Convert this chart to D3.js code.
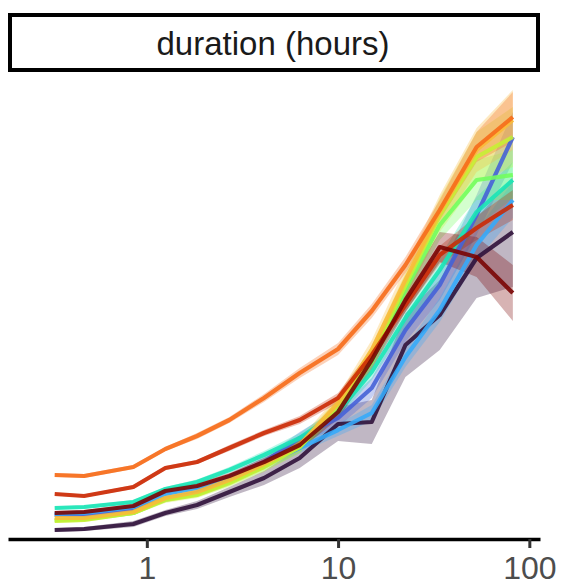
<!DOCTYPE html>
<html>
<head>
<meta charset="utf-8">
<script src="https://cdn.jsdelivr.net/npm/d3@7"></script>
<style>
  html, body { margin: 0; padding: 0; background: #fff; }
  svg { display: block; }
</style>
</head>
<body>
<svg id="chart" width="562" height="588"></svg>
<script>
// ---- data ----
const panelTitle = "duration (hours)";
const durations = [0.33, 0.47, 0.85, 1.25, 1.83, 2.7, 4.1, 6.3, 10, 15, 22.5, 34, 53, 82];
const xTicks = [1, 10, 100];
const groupColors = ["#30123B", "#4662D7", "#36AAF9", "#1AE4B6", "#72FE5E", "#C7EF34", "#FABA39", "#F66B19", "#CB2A04", "#7A0403"];

const g1 = [1.6, 1.8, 2.8, 5.0, 6.6, 9.2, 12.0, 16.0, 22.8, 23.2, 38.6, 44.6, 56.0, 61.2];
const g1ci = [0.4, 0.4, 0.6, 0.6, 0.8, 1, 1.4, 2, 3.4, 4.4, 6.4, 7, 8, 11];
const g2 = [4.6, 4.6, 5.6, 7.8, 9.0, 12.0, 15.2, 20.0, 24.0, 30.0, 41.6, 50.6, 64.6, 80.2];
const g2ci = [0.4, 0.4, 0.4, 0.6, 0.6, 0.8, 1, 1.2, 1.8, 2, 2.4, 3, 4, 5];
const g3 = [4.8, 5.0, 6.2, 8.8, 10.0, 12.0, 14.6, 18.0, 21.6, 25.0, 36.2, 45.6, 58.6, 67.6];
const g3ci = [0.4, 0.4, 0.4, 0.4, 0.6, 0.6, 0.8, 1, 1.2, 1.6, 2, 2.4, 3, 3.6];
const g4 = [6.0, 6.2, 7.2, 9.8, 11.2, 13.6, 16.6, 20.0, 25.2, 33.2, 44.0, 53.6, 65.2, 71.6];
const g4ci = [0.3, 0.3, 0.4, 0.4, 0.5, 0.6, 0.8, 1, 1.2, 1.6, 2, 2.6, 3, 3.6];
const g5 = [3.6, 3.8, 5.0, 7.8, 8.8, 11.2, 14.4, 18.2, 26.0, 35.2, 49.6, 62.6, 71.6, 72.6];
const g5ci = [0.4, 0.4, 0.4, 0.6, 0.6, 0.8, 1, 1.2, 1.4, 1.8, 2.4, 3, 4, 5];
const g6 = [3.4, 3.6, 5.0, 7.6, 8.6, 11.0, 14.2, 18.2, 26.6, 36.6, 50.6, 64.6, 76.2, 80.2];
const g6ci = [0.4, 0.4, 0.4, 0.6, 0.6, 0.8, 1, 1.2, 1.4, 1.8, 2.4, 3.4, 5, 6];
const g7 = [4.0, 4.0, 5.2, 8.0, 9.2, 11.6, 14.8, 18.6, 27.0, 37.6, 51.6, 65.2, 77.6, 83.6];
const g7ci = [0.4, 0.4, 0.4, 0.6, 0.6, 0.8, 1, 1.2, 1.6, 2, 2.6, 3.4, 4.4, 6];
const g8 = [12.6, 12.4, 14.2, 17.8, 20.4, 23.6, 28.0, 33.0, 37.8, 45.4, 54.6, 65.6, 78.2, 84.2];
const g8ci = [0.4, 0.4, 0.4, 0.4, 0.6, 0.6, 0.8, 1, 1.2, 1.4, 1.6, 2, 3, 5];
const g9 = [8.8, 8.4, 10.2, 14.0, 15.2, 18.0, 21.0, 23.6, 28.0, 36.6, 46.6, 56.6, 62.0, 66.6];
const g9ci = [0.3, 0.3, 0.4, 0.4, 0.4, 0.6, 0.6, 0.8, 1, 1.2, 1.4, 1.8, 2.4, 3];
const g10 = [5.0, 5.2, 6.4, 9.4, 10.4, 12.4, 15.2, 18.6, 25.2, 35.6, 47.6, 58.2, 56.2, 49.0];
const g10ci = [0.4, 0.4, 0.4, 0.6, 0.6, 0.6, 0.8, 1, 1.4, 1.8, 2.4, 3, 4, 5.6];

const seriesValues = [g1, g2, g3, g4, g5, g6, g7, g8, g9, g10];
const seriesCI = [g1ci, g2ci, g3ci, g4ci, g5ci, g6ci, g7ci, g8ci, g9ci, g10ci];

// ---- layout ----
const svg = d3.select("#chart");
const x = d3.scaleLog().domain([0.188, 113.7]).range([8, 540]);
const y = d3.scaleLinear().domain([0, 90]).range([538, 88]);

const series = seriesValues.map((vals, i) => ({
  color: groupColors[i],
  pts: vals.map((v, j) => ({ x: durations[j], y: v, lo: v - seriesCI[i][j], hi: v + seriesCI[i][j] }))
}));

// strip
svg.append("rect")
  .attr("x", 10).attr("y", 15).attr("width", 528).attr("height", 55)
  .attr("fill", "#fff").attr("stroke", "#000").attr("stroke-width", 4);
svg.append("text")
  .attr("x", 273).attr("y", 55)
  .attr("text-anchor", "middle")
  .attr("font-family", "'Liberation Sans', Arial, sans-serif")
  .attr("font-size", 33)
  .attr("fill", "#1a1a1a")
  .text(panelTitle);

// ribbons
const area = d3.area().x(d => x(d.x)).y0(d => y(d.lo)).y1(d => y(d.hi));
svg.append("g").selectAll("path").data(series).join("path")
  .attr("d", d => area(d.pts))
  .attr("fill", d => d.color)
  .attr("fill-opacity", 0.3)
  .attr("stroke", "none");

// lines
const line = d3.line().x(d => x(d.x)).y(d => y(d.y));
svg.append("g").selectAll("path").data(series).join("path")
  .attr("d", d => line(d.pts))
  .attr("fill", "none")
  .attr("stroke", d => d.color)
  .attr("stroke-width", 4.2)
  .attr("stroke-opacity", 0.9)
  .attr("stroke-linejoin", "round");

// x axis
const axis = d3.axisBottom(x).tickValues(xTicks).tickFormat(d3.format("d")).tickSizeOuter(0).tickSizeInner(9).tickPadding(8);
const gx = svg.append("g").attr("transform", "translate(0,539)").call(axis);
gx.select(".domain").attr("stroke", "#000").attr("stroke-width", 3.5);
gx.selectAll(".tick line").attr("stroke", "#333").attr("stroke-width", 3);
gx.selectAll(".tick text")
  .attr("font-family", "'Liberation Sans', Arial, sans-serif")
  .attr("font-size", 32)
  .attr("fill", "#4d4d4d");
</script>
</body>
</html>
